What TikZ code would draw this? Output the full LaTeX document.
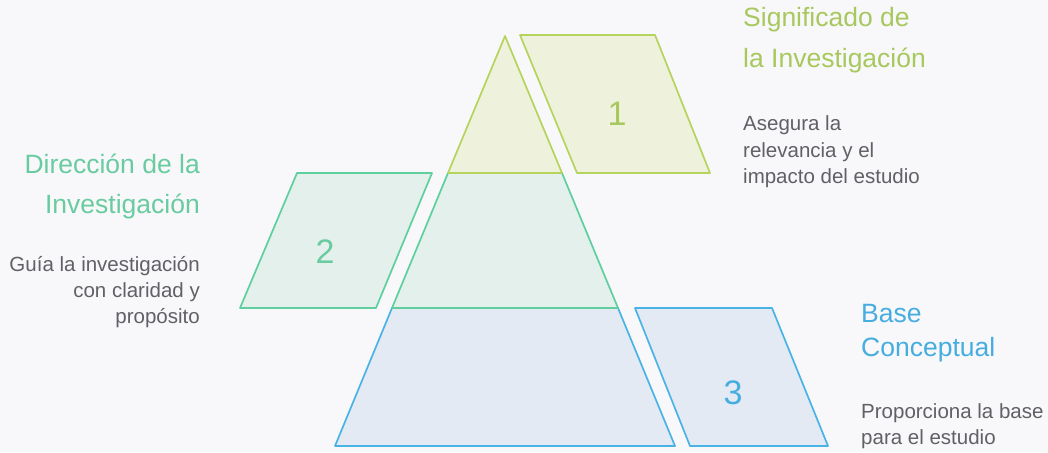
\documentclass[tikz,border=0pt]{standalone}
\usepackage{fontspec}
\setmainfont{Liberation Sans}
\definecolor{cA}{HTML}{B6D35C}
\definecolor{cB}{HTML}{5FCF9F}
\definecolor{cC}{HTML}{4AB3E6}
\definecolor{tA}{HTML}{A8C85E}
\definecolor{tB}{HTML}{69CBA0}
\definecolor{tC}{HTML}{45ADE0}
\definecolor{fA}{HTML}{EEF2DC}
\definecolor{fB}{HTML}{E3F0EC}
\definecolor{fC}{HTML}{E3EAF3}
\definecolor{body}{HTML}{606066}
\definecolor{bg}{HTML}{F8F8FA}
\tikzset{
  shp/.style={line width=1.7pt, line join=round},
  lyrA/.style={shp, draw=cA, fill=fA},
  lyrB/.style={shp, draw=cB, fill=fB},
  lyrC/.style={shp, draw=cC, fill=fC},
  num/.style={font=\fontsize{34}{34}\selectfont, inner sep=0pt},
  ttl/.style={font=\fontsize{26.5}{26.5}\selectfont, inner sep=0pt},
  txt/.style={font=\fontsize{20.5}{20.5}\selectfont, text=body, inner sep=0pt},
}
\begin{document}
\begin{tikzpicture}[x=1pt,y=-1pt]
\fill[bg] (0,0) rectangle (1048,452);
\useasboundingbox (0,0) rectangle (1048,452);
% pyramid layers
\draw[lyrC] (392,308) -- (618,308) -- (675,446) -- (335,446) -- cycle;
\draw[lyrB] (448,173) -- (562,173) -- (618,308) -- (392,308) -- cycle;
\draw[lyrA] (505,36) -- (562,173) -- (448,173) -- cycle;
% side parallelograms
\draw[lyrA] (520,35) -- (655,35) -- (710,173) -- (577,173) -- cycle;
\draw[lyrB] (297,173) -- (432,173) -- (376,308) -- (240,308) -- cycle;
\draw[lyrC] (635,308) -- (772,308) -- (828,446) -- (690,446) -- cycle;
% numbers
\node[num, text=tA] (n1) at (617,114) {1};
\node[num, text=tB] (n2) at (325,252) {2};
\node[num, text=tC] (n3) at (733,393) {3};
% titles
\node[ttl, text=tA, anchor=base west] (t1a) at (743,27) {Significado de};
\node[ttl, text=tA, anchor=base west] (t1b) at (743,67) {la Investigación};
\node[ttl, text=tB, anchor=base east] (t2a) at (200,173) {Dirección de la};
\node[ttl, text=tB, anchor=base east] (t2b) at (200,213) {Investigación};
\node[ttl, text=tC, anchor=base west] (t3a) at (861,322) {Base};
\node[ttl, text=tC, anchor=base west] (t3b) at (861,356) {Conceptual};
% descriptions
\node[txt, anchor=base west] (d1a) at (743,130) {Asegura la};
\node[txt, anchor=base west] (d1b) at (743,157) {relevancia y el};
\node[txt, anchor=base west] (d1c) at (743,183) {impacto del estudio};
\node[txt, anchor=base east] (d2a) at (200,271) {Guía la investigación};
\node[txt, anchor=base east] (d2b) at (200,297) {con claridad y};
\node[txt, anchor=base east] (d2c) at (200,323) {propósito};
\node[txt, anchor=base west] (d3a) at (861,418) {Proporciona la base};
\node[txt, anchor=base west] (d3b) at (861,444) {para el estudio};
\end{tikzpicture}
\end{document}
